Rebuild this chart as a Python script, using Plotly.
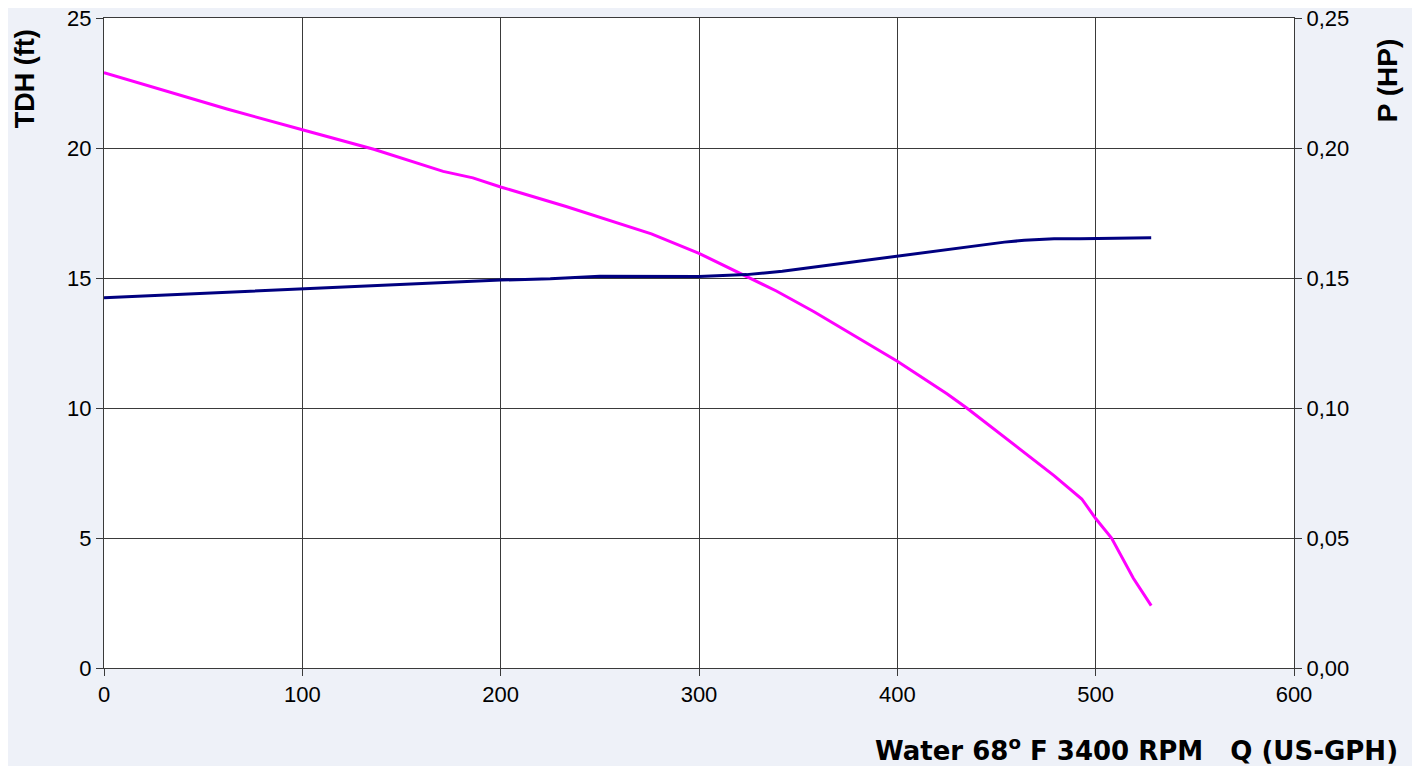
import plotly.graph_objects as go

# TDH curve (left axis, ft)
q_tdh = [0, 62, 100, 136, 171, 186, 200, 233, 276, 300, 339, 358, 400, 425, 435, 458, 479, 493, 500, 508, 519, 528]
tdh = [22.9, 21.5, 20.7, 19.95, 19.1, 18.85, 18.5, 17.75, 16.7, 15.95, 14.5, 13.7, 11.8, 10.55, 10.0, 8.65, 7.4, 6.5, 5.75, 5.0, 3.45, 2.4]

# Power curve (right axis, HP)
q_p = [0, 100, 200, 225, 250, 300, 324, 342, 400, 412, 440, 454, 464, 479, 492, 510, 517, 528]
p_hp = [0.1424, 0.1459, 0.1492, 0.1497, 0.1507, 0.1506, 0.1513, 0.1526, 0.1585, 0.1597, 0.1625, 0.1638,
        0.1645, 0.1651, 0.1651, 0.1652, 0.1655, 0.1655]

x_ticks = [0, 100, 200, 300, 400, 500, 600]
y_ticks = [0, 5, 10, 15, 20, 25]
y2_ticks = [0.0, 0.05, 0.10, 0.15, 0.20, 0.25]

FONT = "Liberation Sans, Arial, sans-serif"
WIDE = "DejaVu Sans, Liberation Sans, sans-serif"
GRID = "#3a3a3a"

fig = go.Figure()
fig.add_trace(go.Scatter(x=q_tdh, y=tdh, mode="lines", line=dict(color="#ff00ff", width=3),
                         showlegend=False, hoverinfo="skip"))
fig.add_trace(go.Scatter(x=q_p, y=p_hp, mode="lines", line=dict(color="#000080", width=3),
                         yaxis="y2", showlegend=False, hoverinfo="skip"))

axis_common = dict(showline=True, linecolor=GRID, linewidth=1, ticks="outside", ticklen=7,
                   tickcolor=GRID, zeroline=False, automargin=False, ticklabeloverflow="allow",
                   tickfont=dict(size=22))

fig.update_layout(
    width=1412, height=758,
    margin=dict(l=96, r=126, t=10, b=98),
    paper_bgcolor="#eef1f8",
    plot_bgcolor="#ffffff",
    separators=",.",
    font=dict(family=FONT, size=22, color="#000000"),
    xaxis=dict(range=[0, 600], tickvals=x_ticks, showgrid=True, gridcolor=GRID, gridwidth=1,
               mirror=True, **axis_common),
    yaxis=dict(range=[0, 25], tickvals=y_ticks, showgrid=True, gridcolor=GRID, gridwidth=1,
               **axis_common),
    yaxis2=dict(range=[0, 0.25], tickvals=y2_ticks, tickformat=".2f", overlaying="y", side="right",
                showgrid=False, **axis_common),
    annotations=[
        dict(text="<b>TDH (ft)</b>", textangle=-90, xref="paper", yref="paper",
             x=-0.0664, y=0.9074, xanchor="center", yanchor="middle", showarrow=False,
             font=dict(size=27, family=FONT)),
        dict(text="<b>P (HP)</b>", textangle=-90, xref="paper", yref="paper",
             x=1.0786, y=0.9035, xanchor="center", yanchor="middle", showarrow=False,
             font=dict(size=28, family=FONT)),
        dict(text="<b>Water 68<sup>o</sup> F 3400 RPM\u00a0\u00a0\u00a0Q (US-GPH)</b>",
             xref="paper", yref="paper", x=1.0891, y=-0.124, xanchor="right", yanchor="middle",
             showarrow=False, font=dict(size=26, family=WIDE)),
    ],
)

fig.write_html("out.html")
